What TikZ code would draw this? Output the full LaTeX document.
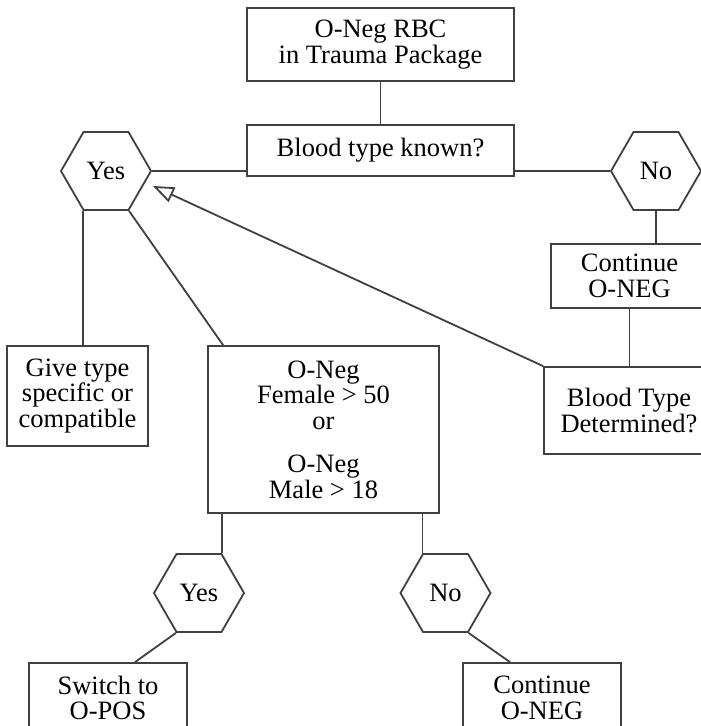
\documentclass[tikz,border=0pt]{standalone}
\usepackage{fontspec}
\setmainfont{Liberation Serif}
\usetikzlibrary{shapes.geometric,arrows.meta,calc}
\definecolor{ln}{HTML}{404040}
\begin{document}
\begin{tikzpicture}[x=1pt,y=-1pt,
  every node/.style={font=\fontsize{26.5}{25.5}\selectfont, text=black},
  box/.style={draw=ln, line width=1.8pt, rectangle, align=center, inner sep=2pt},
  hexa/.style={draw=ln, line width=1.8pt, regular polygon, regular polygon sides=6, minimum size=90pt, inner sep=0pt},
  link/.style={draw=ln, line width=1.8pt}]
\useasboundingbox (0,0) rectangle (701,726);
\clip (0,0) rectangle (701,726);
\node[box, minimum width=267pt, minimum height=73pt] (top) at (380.5,44.5) {O-Neg RBC\\in Trauma Package};
\node[box, minimum width=267pt, minimum height=51pt] (known) at (380.5,150.5) {Blood type known?};
\node[hexa] (yes1) at (106,171) {Yes};
\node[hexa] (no1) at (656,171) {No};
\node[box, minimum width=157pt, minimum height=64pt] (cont1) at (629.5,276) {Continue\\O-NEG};
\node[box, minimum width=170pt, minimum height=87pt] (btd) at (629,410.5) {Blood Type\\Determined?};
\node[box, minimum width=141pt, minimum height=100pt] (give) at (77.5,396) {Give type\\specific or\\compatible};
\node[box, minimum width=231pt, minimum height=167pt] (oneg) at (323.5,429.5) {O-Neg\\Female > 50\\or\\[18pt]O-Neg\\Male > 18};
\node[hexa] (yes2) at (199,593) {Yes};
\node[hexa] (no2) at (445.5,593) {No};
\node[box, minimum width=158pt, minimum height=70pt] (switch) at (108,698) {Switch to\\O-POS};
\node[box, minimum width=158pt, minimum height=70pt] (cont2) at (542,698) {Continue\\O-NEG};
\coordinate (tip) at (153,186);
\draw[link] (top.south) -- (known.north);
\draw[link] (yes1.east) -- (yes1.east -| known.west);
\draw[link] (no1.west -| known.east) -- (no1.west);
\draw[link] (no1.south) -- (no1.south |- cont1.north);
\draw[link] (cont1.south) -- (cont1.south |- btd.north);
\draw[link, -{Triangle[open, length=21pt, width=16pt]}] (btd.north west) -- (tip);
\draw[link] (yes1.240) -- (yes1.240 |- give.north);
\draw[link] (yes1.300) -- ($(oneg.north west)+(16,0)$);
\draw[link] (yes2.60 |- oneg.south) -- (yes2.60);
\draw[link] (no2.120 |- oneg.south) -- (no2.120);
\draw[link] (yes2.240) -- ($(switch.north)+(27,0)$);
\draw[link] (no2.300) -- ($(cont2.north)+(-32,0)$);
\end{tikzpicture}
\end{document}
